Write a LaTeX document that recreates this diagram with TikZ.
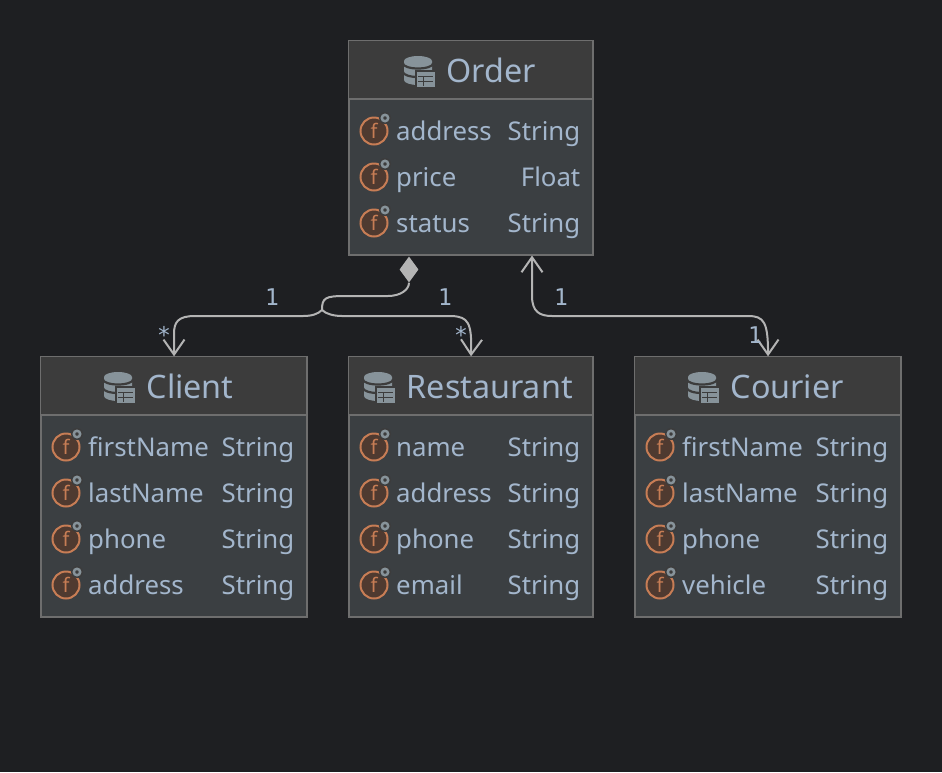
\documentclass[tikz,border=0pt]{standalone}
\usepackage{fontspec}
\setmainfont{Noto Sans}
\newfontfamily\labelfont{DejaVu Sans Mono}
\usetikzlibrary{arrows.meta,shapes.geometric}

\definecolor{canvasbg}{HTML}{1E1F22}
\definecolor{headbg}{HTML}{3C3C3C}
\definecolor{bodybg}{HTML}{3B3F42}
\definecolor{boxline}{HTML}{6E6E6E}
\definecolor{txtcol}{HTML}{A3B6CC}
\definecolor{linkcol}{HTML}{B4B4B4}
\definecolor{iconcol}{HTML}{87939A}
\definecolor{fieldline}{HTML}{C77D55}
\definecolor{fieldfill}{HTML}{4F3A30}

\tikzset{
  classbox/.style={draw=boxline, line width=1.5pt, fill=bodybg, inner sep=0pt, anchor=north west},
  classtitle/.style={anchor=base west, inner sep=0pt, text=txtcol, font=\fontsize{32.3}{32.3}\selectfont},
  fieldname/.style={anchor=base west, inner sep=0pt, text=txtcol, font=\fontsize{25.8}{25.8}\selectfont},
  fieldtype/.style={anchor=base east, inner sep=0pt, text=txtcol, font=\fontsize{25.8}{25.8}\selectfont},
  fieldicon/.style={circle, draw=fieldline, fill=fieldfill, line width=2pt, minimum size=27pt, inner sep=0pt,
     text=fieldline, font=\fontsize{20}{20}\selectfont},
  link/.style={draw=linkcol, line width=2pt},
  multiplicity/.style={inner sep=0pt, text=txtcol, font=\labelfont\fontsize{23}{23}\selectfont},
  >={Straight Barb[length=15pt,width=21pt,line width=2pt]}
}

% x y name : icon of a table, x y is its upper left corner
\newcommand{\dbicon}[3]{
  \begin{scope}[shift={(#1,#2)}]
    \fill[iconcol] (0,6) arc[start angle=180,end angle=360,x radius=14,y radius=5]
        -- (28,25) arc[start angle=0,end angle=180,x radius=14,y radius=5] -- cycle;
    \draw[headbg, line width=2.2pt] (-1,8.5) arc[start angle=180,end angle=0,x radius=15,y radius=5];
    \draw[headbg, line width=2.2pt] (-1,17) arc[start angle=180,end angle=0,x radius=15,y radius=5];
    \fill[headbg] (10.5,15) rectangle (31,32.5);
    \node[draw=iconcol, fill=iconcol, minimum width=17pt, minimum height=13.5pt, inner sep=0pt, anchor=north west] (#3) at (13,17) {};
    \draw[headbg, line width=1pt] (14,21.5) -- (29,21.5) (14,26) -- (29,26) (19.5,21.5) -- (19.5,30.5);
  \end{scope}
}

% x right y name type id
\newcommand{\fieldrow}[6]{
  \node[fieldicon] (#6i) at (#1+25,#3) {f};
  \fill[headbg] (#1+36,#3-13) circle (6);
  \draw[iconcol, line width=2.5pt] (#1+36,#3-13) circle (3.2);
  \node[fieldname] (#6n) at (#1+47,#3+9) {#4};
  \node[fieldtype] (#6t) at (#2-12.5,#3+9) {#5};
}

% x y width height name title titlex
\newcommand{\classhead}[7]{
  \node[classbox, minimum width=#3pt, minimum height=#4pt] (#5) at (#1-0.7,#2-0.7) {};
  \fill[headbg] (#1,#2) rectangle (#1+#3-1.5,#2+57);
  \draw[boxline, line width=2pt] (#1-0.7,#2+58) -- (#1+#3-0.7,#2+58);
  \node[classtitle] (#5title) at (#7,#2+41.5) {#6};
}

\begin{document}
\begin{tikzpicture}[x=1pt,y=-1pt]
   \useasboundingbox[fill=canvasbg] (0,0) rectangle (942,772);

   \classhead{349}{41}{244}{214}{order}{Order}{446.5}
   \dbicon{404}{55}{orderdb}
   \fieldrow{349}{593}{131}{address}{String}{oa}
   \fieldrow{349}{593}{177}{price}{Float}{ob}
   \fieldrow{349}{593}{223}{status}{String}{oc}

   \classhead{41}{357}{266}{260}{client}{Client}{146.5}
   \dbicon{104}{371}{clientdb}
   \fieldrow{41}{307}{447}{firstName}{String}{ca}
   \fieldrow{41}{307}{493}{lastName}{String}{cb}
   \fieldrow{41}{307}{539}{phone}{String}{cc}
   \fieldrow{41}{307}{585}{address}{String}{cd}

   \classhead{349}{357}{244}{260}{restaurant}{Restaurant}{406.5}
   \dbicon{364}{371}{restaurantdb}
   \fieldrow{349}{593}{447}{name}{String}{ra}
   \fieldrow{349}{593}{493}{address}{String}{rb}
   \fieldrow{349}{593}{539}{phone}{String}{rc}
   \fieldrow{349}{593}{585}{email}{String}{rd}

   \classhead{635}{357}{266}{260}{courier}{Courier}{730.5}
   \dbicon{688}{371}{courierdb}
   \fieldrow{635}{901}{447}{firstName}{String}{ka}
   \fieldrow{635}{901}{493}{lastName}{String}{kb}
   \fieldrow{635}{901}{539}{phone}{String}{kc}
   \fieldrow{635}{901}{585}{vehicle}{String}{kd}

   \node[diamond, aspect=0.77, fill=linkcol, minimum width=19pt, minimum height=26pt, inner sep=0pt] (dia) at (409,269.5) {};
   \coordinate (split) at (322,310);
   \coordinate (orderend) at (532,255.5);

   \draw[link] (dia.south) .. controls (409,290) and (400,296) .. (388,296)
        -- (345,296) .. controls (325,296) and (322,298) .. (322,310);
   \draw[link, ->] (split) .. controls (318,314) and (312,316) .. (303,316)
        -- (195,316) .. controls (178,316) and (174,322) .. (174,334) -- (client.north);
   \draw[link, ->] (split) .. controls (326,314) and (334,316) .. (342,316)
        -- (452,316) .. controls (468,317) and (472,322) .. (restaurant.north);
   \draw[link, <->] (orderend) -- (532,296) .. controls (532,312) and (540,316) .. (552,316)
        -- (748,316) .. controls (764,316) and (768,322) .. (courier.north);

   \node[multiplicity] (l1) at (272,297) {1};
   \node[multiplicity] (l2) at (164,335) {*};
   \node[multiplicity] (l3) at (445,297) {1};
   \node[multiplicity] (l4) at (461,335) {*};
   \node[multiplicity] (l5) at (561,297) {1};
   \node[multiplicity] (l6) at (755,335) {1};
\end{tikzpicture}
\end{document}
